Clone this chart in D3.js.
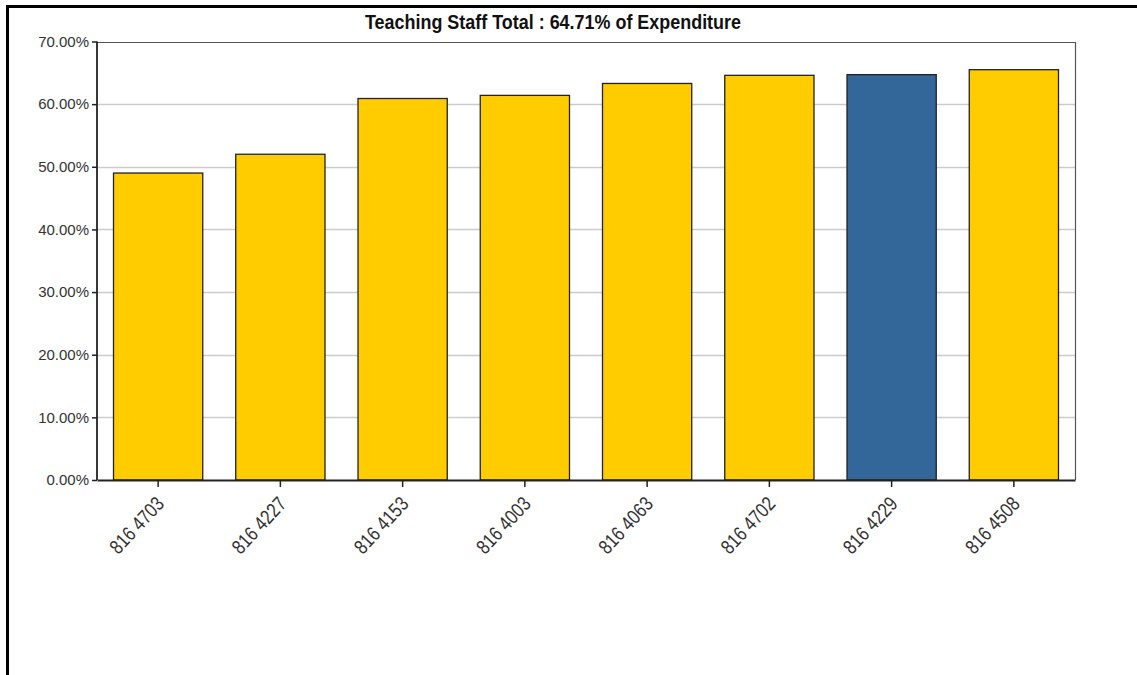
<!DOCTYPE html>
<html>
<head>
<meta charset="utf-8">
<script src="https://cdn.jsdelivr.net/npm/d3@7"></script>
<style>
  body { margin: 0; background: #fff; }
  svg { display: block; }
</style>
</head>
<body>
<div id="chart"></div>
<script>
// Chart data.
var schools = ["816 4703", "816 4227", "816 4153", "816 4003", "816 4063", "816 4702", "816 4229", "816 4508"];
var teachingPct = [49.0, 52.0, 60.9, 61.4, 63.3, 64.6, 64.71, 65.5];
var highlighted = ["816 4229"];
var yTicks = [0, 10, 20, 30, 40, 50, 60, 70];
var titleText = "Teaching Staff Total : 64.71% of Expenditure";

var width = 1137;
var height = 675;
var m = { top: 41.5, right: 62, bottom: 195, left: 97 };

var svg = d3.select("#chart").append("svg")
    .attr("width", width)
    .attr("height", height);

// page frame (left + top lines only)
svg.append("line")
    .attr("x1", 7.5).attr("x2", 7.5).attr("y1", 5).attr("y2", height)
    .attr("stroke", "#000").attr("stroke-width", 3);
svg.append("line")
    .attr("x1", 6).attr("x2", width).attr("y1", 6.5).attr("y2", 6.5)
    .attr("stroke", "#000").attr("stroke-width", 3);

var x = d3.scaleBand()
    .domain(schools)
    .range([m.left, width - m.right])
    .paddingInner(0.27)
    .paddingOuter(0.135);

var y = d3.scaleLinear()
    .domain([0, 70])
    .range([height - m.bottom, m.top]);

// gridlines
svg.append("g")
  .selectAll("line")
  .data(yTicks.filter(function(d) { return d > 0 && d < 70; }))
  .enter().append("line")
    .attr("x1", m.left).attr("x2", width - m.right)
    .attr("y1", function(d) { return Math.round(y(d)) + 0.5; })
    .attr("y2", function(d) { return Math.round(y(d)) + 0.5; })
    .attr("stroke", "#cccccc").attr("stroke-width", 1.5);

// top and right plot border
svg.append("path")
    .attr("d", "M" + m.left + "," + (Math.round(y(70)) + 0.5) + "H" + (width - m.right + 0.5) + "V" + y(0))
    .attr("fill", "none")
    .attr("stroke", "#555")
    .attr("stroke-width", 1.2);

// bars
svg.append("g")
  .selectAll("rect")
  .data(schools)
  .enter().append("rect")
    .attr("x", function(d) { return x(d); })
    .attr("y", function(d, i) { return y(teachingPct[i]); })
    .attr("width", x.bandwidth())
    .attr("height", function(d, i) { return y(0) - y(teachingPct[i]); })
    .attr("fill", function(d) { return highlighted.indexOf(d) >= 0 ? "#336699" : "#ffcc00"; })
    .attr("stroke", "#222")
    .attr("stroke-width", 1.3);

// y axis
var yAxis = svg.append("g")
    .attr("transform", "translate(" + m.left + ",0)")
    .call(d3.axisLeft(y)
        .tickValues(yTicks)
        .tickSize(5)
        .tickPadding(3)
        .tickFormat(function(d) { return d3.format(".2f")(d) + "%"; }));

// x axis
var xAxis = svg.append("g")
    .attr("transform", "translate(0," + y(0) + ")")
    .call(d3.axisBottom(x).tickSize(7).tickSizeOuter(0));

[yAxis, xAxis].forEach(function(ax) {
  ax.select(".domain").attr("stroke", "#222").attr("stroke-width", 1.8);
  ax.selectAll(".tick line").attr("stroke", "#222").attr("stroke-width", 1.5);
  ax.selectAll("text")
      .attr("fill", "#333")
      .style("font-family", "'Liberation Sans', Arial, sans-serif")
      .style("font-size", "15px");
});
yAxis.select(".domain").attr("d", "M0," + y(70) + "V" + y(0));

xAxis.selectAll("text")
    .attr("text-anchor", "end")
    .attr("dy", "0.35em")
    .attr("transform", "translate(2,20) rotate(-47) scale(0.92,1.12)")
    .attr("y", 0)
    .attr("x", 0)
    .style("font-size", "18px");

// title, squeezed to look like the condensed face of the original
svg.append("text")
    .attr("x", 553)
    .attr("y", 29)
    .attr("text-anchor", "middle")
    .attr("textLength", 376)
    .attr("lengthAdjust", "spacingAndGlyphs")
    .style("font-family", "'Liberation Sans', Arial, sans-serif")
    .style("font-weight", "bold")
    .style("font-size", "21px")
    .attr("fill", "#111")
    .text(titleText);
</script>
</body>
</html>
